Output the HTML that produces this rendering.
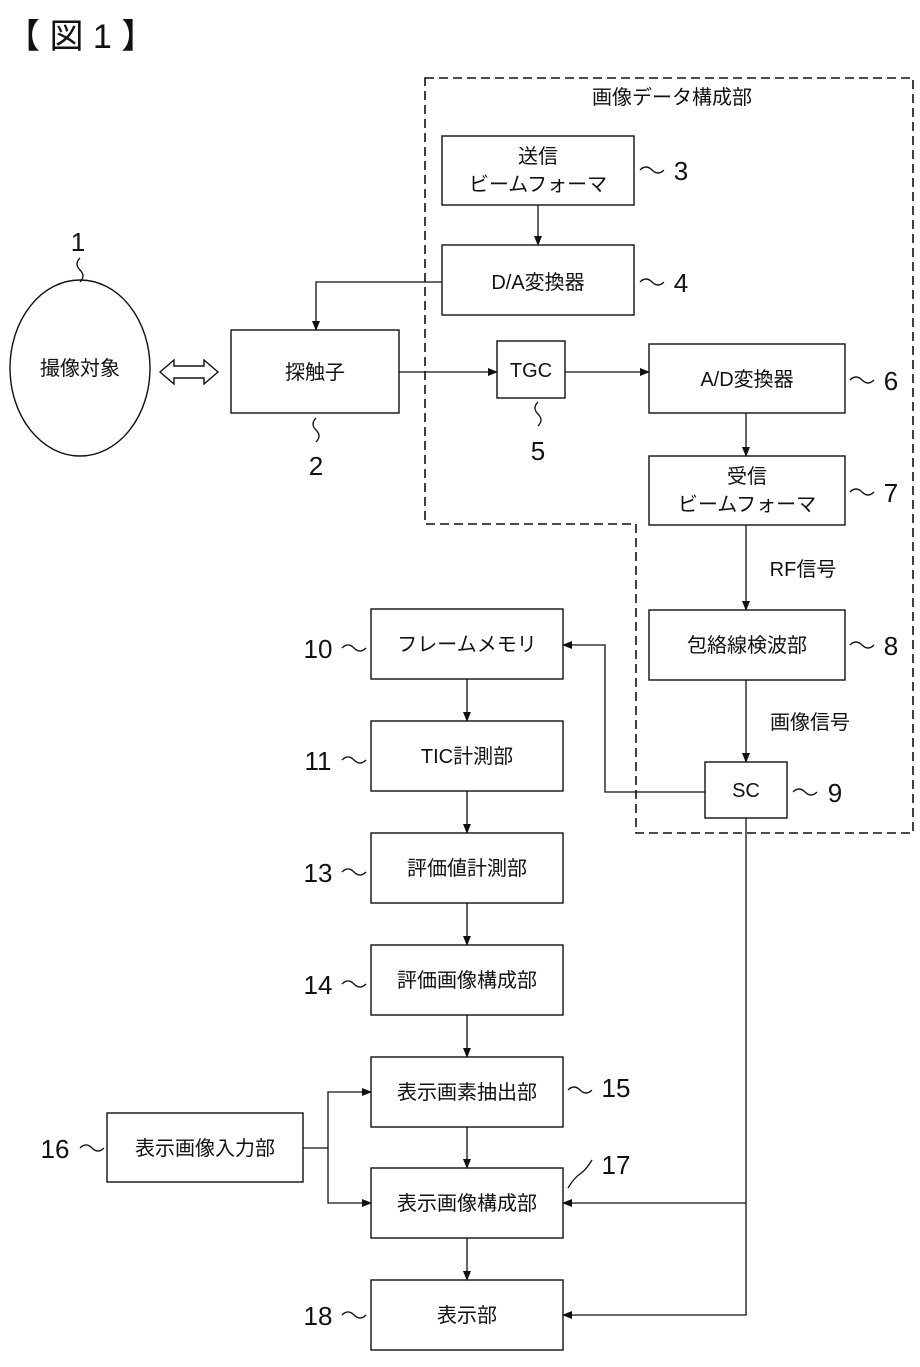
<!DOCTYPE html>
<html><head><meta charset="utf-8"><style>
html,body{margin:0;padding:0;background:#fff;}
svg text{font-family:"Liberation Sans","Noto Sans CJK JP",sans-serif;fill:#111;}
</style></head><body>
<svg width="920" height="1362" viewBox="0 0 920 1362" xmlns="http://www.w3.org/2000/svg">
<defs>
<marker id="a" markerWidth="10" markerHeight="8" refX="9" refY="4" orient="auto" markerUnits="userSpaceOnUse">
<path d="M0,0 L10,4 L0,8 Z" fill="#111"/></marker>
</defs>
<text x="6" y="48" font-size="34">【 図 1 】</text>
<!-- dashed region -->
<path d="M425,78 H913 V833 H636 V524 H425 Z" fill="none" stroke="#111" stroke-width="1.6" stroke-dasharray="9,5"/>
<text x="672" y="104" font-size="20" text-anchor="middle">画像データ構成部</text>
<g fill="none" stroke="#111" stroke-width="1.4">
<rect x="442" y="136" width="192" height="69"/>
<rect x="442" y="245" width="192" height="70"/>
<rect x="231" y="330" width="168" height="83"/>
<rect x="497" y="341" width="68" height="57"/>
<rect x="649" y="344" width="196" height="69"/>
<rect x="649" y="456" width="196" height="69"/>
<rect x="649" y="610" width="196" height="70"/>
<rect x="705" y="762" width="82" height="56"/>
<rect x="371" y="609" width="192" height="70"/>
<rect x="371" y="721" width="192" height="70"/>
<rect x="371" y="833" width="192" height="70"/>
<rect x="371" y="945" width="192" height="70"/>
<rect x="371" y="1057" width="192" height="70"/>
<rect x="371" y="1168" width="192" height="70"/>
<rect x="371" y="1280" width="192" height="70"/>
<rect x="107" y="1113" width="196" height="69"/>
<ellipse cx="80" cy="368" rx="70" ry="88"/>
<!-- double arrow -->
<path d="M160,372 L174,360 V366 H204 V360 L218,372 L204,384 V378 H174 V384 Z"/>
</g>
<g fill="none" stroke="#111" stroke-width="1.3">
<path d="M538,205 V245" marker-end="url(#a)"/>
<path d="M442,282 H316 V330" marker-end="url(#a)"/>
<path d="M399,372 H497" marker-end="url(#a)"/>
<path d="M565,372 H649" marker-end="url(#a)"/>
<path d="M746,413 V456" marker-end="url(#a)"/>
<path d="M746,525 V610" marker-end="url(#a)"/>
<path d="M746,680 V762" marker-end="url(#a)"/>
<path d="M705,792 H605 V645 H563" marker-end="url(#a)"/>
<path d="M467,679 V721" marker-end="url(#a)"/>
<path d="M467,791 V833" marker-end="url(#a)"/>
<path d="M467,903 V945" marker-end="url(#a)"/>
<path d="M467,1015 V1057" marker-end="url(#a)"/>
<path d="M467,1127 V1168" marker-end="url(#a)"/>
<path d="M467,1238 V1280" marker-end="url(#a)"/>
<path d="M746,818 V1315 H563" marker-end="url(#a)"/>
<path d="M746,1203 H563" marker-end="url(#a)"/>
<path d="M303,1148 H328 V1092 H371" marker-end="url(#a)"/>
<path d="M328,1148 V1203 H371" marker-end="url(#a)"/>
<!-- tildes -->
<path d="M640,170 q6,-6 12,0 t12,0"/>
<path d="M640,282 q6,-6 12,0 t12,0"/>
<path d="M850,380 q6,-6 12,0 t12,0"/>
<path d="M850,492 q6,-6 12,0 t12,0"/>
<path d="M850,645 q6,-6 12,0 t12,0"/>
<path d="M793,792 q6,-6 12,0 t12,0"/>
<path d="M342,648 q6,-6 12,0 t12,0"/>
<path d="M342,760 q6,-6 12,0 t12,0"/>
<path d="M342,872 q6,-6 12,0 t12,0"/>
<path d="M342,984 q6,-6 12,0 t12,0"/>
<path d="M342,1315 q6,-6 12,0 t12,0"/>
<path d="M80,1148 q6,-6 12,0 t12,0"/>
<path d="M568,1090 q6,-6 12,0 t12,0"/>
<path d="M568,1188 q6,-10 12,-14 t12,-14"/>
<path d="M80,258 q-6,6 0,12 t0,12"/>
<path d="M316,418 q-6,6 0,12 t0,12"/>
<path d="M538,402 q-6,6 0,12 t0,12"/>
</g>
<g font-size="20" text-anchor="middle">
<text x="538" y="163">送信</text>
<text x="538" y="191">ビームフォーマ</text>
<text x="538" y="289">D/A変換器</text>
<text x="315" y="379">探触子</text>
<text x="531" y="377">TGC</text>
<text x="747" y="386">A/D変換器</text>
<text x="747" y="483">受信</text>
<text x="747" y="511">ビームフォーマ</text>
<text x="747" y="652">包絡線検波部</text>
<text x="746" y="797">SC</text>
<text x="467" y="651">フレームメモリ</text>
<text x="467" y="763">TIC計測部</text>
<text x="467" y="875">評価値計測部</text>
<text x="467" y="987">評価画像構成部</text>
<text x="467" y="1099">表示画素抽出部</text>
<text x="467" y="1210">表示画像構成部</text>
<text x="467" y="1322">表示部</text>
<text x="205" y="1155">表示画像入力部</text>
<text x="80" y="375">撮像対象</text>
<text x="803" y="576">RF信号</text>
<text x="810" y="729">画像信号</text>
</g>
<g font-size="26" text-anchor="middle">
<text x="681" y="180">3</text>
<text x="681" y="292">4</text>
<text x="891" y="390">6</text>
<text x="891" y="502">7</text>
<text x="891" y="655">8</text>
<text x="835" y="802">9</text>
<text x="318" y="658">10</text>
<text x="318" y="770">11</text>
<text x="318" y="882">13</text>
<text x="318" y="994">14</text>
<text x="318" y="1325">18</text>
<text x="55" y="1158">16</text>
<text x="616" y="1097">15</text>
<text x="616" y="1174">17</text>
<text x="78" y="251">1</text>
<text x="316" y="475">2</text>
<text x="538" y="460">5</text>
</g>
</svg>
</body></html>
